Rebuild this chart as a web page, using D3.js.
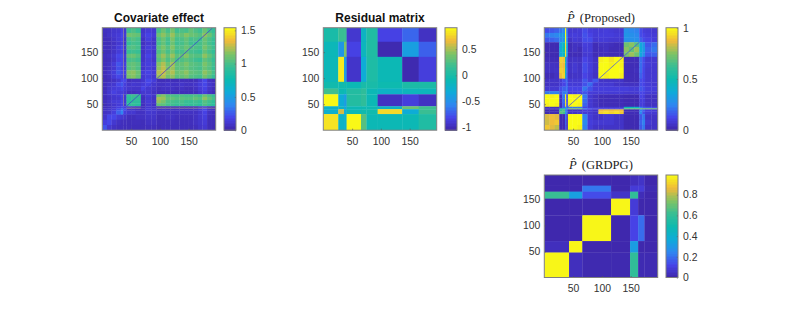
<!DOCTYPE html>
<html>
<head>
<meta charset="utf-8">
<script src="https://cdn.jsdelivr.net/npm/d3@7"></script>
<style>
  html, body { margin: 0; padding: 0; background: #fff; }
  svg { display: block; }
  text { font-family: "Liberation Sans", sans-serif; }
</style>
</head>
<body>
<div id="chart"></div>
<script>
// matrix size and axis ticks
const matrixSize = 197;
const axisTicks = [50, 100, 150];

// parula colormap stops
const parulaStops = ["#3e26a8", "#4743e8", "#2e87f0", "#0eabd8", "#0cbab0", "#38be94", "#80c364", "#efba3a", "#f9fb15"];

// Covariate effect: rows go top to bottom
const covX = [0, 8, 16, 24, 32, 36, 36.6, 42, 50, 58, 67, 75, 85, 94, 102, 110, 118, 126, 134, 142, 150, 158, 166, 174, 182, 190, 197];
const covY = [197, 187, 179, 171, 163, 155, 147, 139, 131, 123, 115, 107, 99, 92, 84, 76, 69, 64, 58, 52, 46, 43, 42, 38, 30, 20, 10, 0];
const covValues = [
  [.07, .08, .11, .12, .18, 1.5, .12, .98, 1.02, .96, .1, .14, .12, 1.0, 1.1, 1.0, 1.12, .98, 1.02, 1.0, 1.08, 1.02, .98, 1.1, 1.0, .95],
  [.06, .09, .12, .14, .2, 1.5, .14, 1.12, 1.1, 1.08, .12, .18, .14, 1.1, 1.18, 1.08, 1.2, 1.06, 1.08, 1.16, 1.1, 1.08, 1.04, 1.18, 1.1, 1.0],
  [.05, .06, .1, .14, .18, 1.5, .1, 1.0, 1.04, 1.0, .08, .16, .1, 1.02, 1.1, 1.0, 1.14, 1.0, 1.02, 1.08, 1.0, 1.02, .98, 1.1, 1.02, .96],
  [.05, .05, .08, .12, .16, 1.5, .09, .96, 1.0, .98, .07, .12, .09, 1.0, 1.08, .98, 1.1, .98, 1.0, 1.06, .98, .98, 1.0, 1.08, 1.0, .95],
  [.06, .06, .09, .15, .2, 1.5, .12, 1.02, 1.04, 1.0, .09, .15, .12, 1.06, 1.14, 1.04, 1.16, 1.02, 1.04, 1.1, 1.04, 1.02, 1.0, 1.13, 1.04, .98],
  [.05, .05, .09, .14, .17, 1.5, .1, .96, .98, .96, .08, .14, .1, 1.02, 1.1, 1.0, 1.1, .98, 1.0, 1.06, 1.0, .98, .96, 1.08, 1.0, .94],
  [.06, .08, .12, .2, .22, 1.5, .14, 1.08, 1.1, 1.04, .1, .18, .12, 1.1, 1.2, 1.08, 1.2, 1.06, 1.08, 1.16, 1.06, 1.04, 1.04, 1.18, 1.08, 1.0],
  [.05, .06, .1, .18, .2, 1.5, .12, 1.0, 1.02, .98, .09, .15, .1, 1.05, 1.14, 1.02, 1.12, 1.0, 1.02, 1.06, 1.02, .98, .96, 1.08, 1.02, .95],
  [.06, .08, .14, .24, .2, 1.5, .16, 1.06, 1.08, 1.04, .12, .16, .14, 1.16, 1.24, 1.1, 1.22, 1.06, 1.08, 1.14, 1.06, 1.04, 1.02, 1.14, 1.06, .98],
  [.05, .08, .12, .22, .18, 1.5, .14, 1.04, 1.08, 1.02, .1, .15, .12, 1.18, 1.26, 1.13, 1.2, 1.06, 1.06, 1.1, 1.04, 1.02, 1.0, 1.1, 1.04, .96],
  [.06, .1, .15, .25, .2, 1.5, .17, 1.16, 1.18, 1.1, .14, .18, .14, 1.24, 1.28, 1.18, 1.24, 1.1, 1.12, 1.18, 1.08, 1.06, 1.04, 1.18, 1.1, 1.0],
  [.05, .08, .14, .2, .18, 1.5, .14, 1.13, 1.16, 1.08, .12, .16, .12, 1.2, 1.24, 1.12, 1.18, 1.06, 1.08, 1.12, 1.04, 1.02, 1.0, 1.12, 1.04, .96],
  [.05, .06, .08, .12, .2, .14, .2, .06, .08, .08, .11, .2, .15, .05, .05, .06, .05, .05, .06, .06, .05, .06, .12, .2, .08, .06],
  [.06, .1, .12, .2, .25, .18, .16, .1, .12, .11, .14, .18, .11, .08, .08, .1, .08, .08, .1, .08, .08, .1, .15, .2, .11, .08],
  [.05, .11, .14, .16, .2, .14, .14, .11, .1, .1, .18, .12, .1, .06, .08, .08, .08, .06, .08, .06, .06, .08, .14, .18, .1, .06],
  [.06, .12, .17, .14, .15, .14, .12, .06, .06, .08, .12, .12, .08, .05, .05, .06, .05, .05, .05, .05, .05, .06, .11, .15, .08, .05],
  [.06, .1, .12, .14, .2, 1.5, .12, .95, .98, .95, .08, .14, .1, 1.1, 1.16, 1.04, 1.02, 1.0, 1.02, 1.0, 1.0, 1.02, .98, 1.1, 1.02, .96],
  [.05, .08, .11, .12, .18, 1.5, .11, .92, .95, .94, .06, .12, .08, 1.22, 1.2, 1.08, 1.08, 1.04, 1.06, 1.04, 1.04, 1.08, 1.04, 1.18, 1.08, 1.0],
  [.06, .1, .14, .15, .2, 1.5, .12, .9, .92, .92, .08, .14, .1, 1.18, 1.13, 1.02, 1.0, .98, 1.0, .96, .96, .98, .94, 1.04, .98, .92],
  [.05, .08, .11, .14, .18, 1.5, .12, .92, .94, .9, .06, .12, .08, 1.08, 1.06, 1.0, .98, .96, .98, .95, .94, .96, .92, 1.02, .96, .9],
  [.06, .08, .12, .18, .22, .2, .16, .12, .1, .08, .06, .12, .1, .06, .06, .06, .06, .06, .06, .06, .06, .06, .12, .16, .08, .06],
  [.06, .06, .1, .12, .14, .12, .14, 1.3, 1.3, 1.3, .12, .12, .08, 1.3, 1.3, 1.3, 1.3, 1.3, 1.3, 1.3, 1.3, 1.3, 1.3, 1.3, 1.3, 1.3],
  [.08, .11, .14, .22, .32, .24, .22, .1, .1, .08, .08, .14, .12, .08, .1, .08, .08, .08, .08, .08, .08, .1, .14, .2, .1, .08],
  [.08, .1, .16, .28, .38, .26, .16, .12, .12, .08, .08, .12, .11, .08, .08, .08, .08, .08, .08, .08, .08, .08, .12, .18, .08, .06],
  [.1, .2, .2, .14, .12, .1, .1, .06, .06, .08, .08, .1, .1, .05, .06, .08, .08, .06, .06, .06, .06, .08, .12, .16, .06, .05],
  [.16, .2, .12, .08, .06, .06, .06, .05, .06, .06, .05, .08, .08, .05, .05, .05, .06, .05, .05, .05, .06, .08, .11, .14, .05, .05],
  [.24, .12, .08, .06, .06, .05, .05, .05, .05, .05, .05, .06, .06, .04, .05, .05, .05, .05, .05, .05, .05, .06, .1, .12, .05, .04]
];
const covDiagX = [42, 191];
const covDiagY = [46, 196];
const covDiagValue = [0.08];
const covBarDomain = [0, 1.54];
const covBarTicks = [0, 0.5, 1, 1.5];
const covBarLabels = ["0", "0.5", "1", "1.5"];

// Residual matrix
const resX = [0, 26, 36, 40.5, 65.5, 75, 94.4, 137, 165.7, 197];
const resY = [197, 170, 141, 93, 80, 69, 46, 40.4, 31, 0];
const resValues = [
  [.0, .18, .18, -.9, -.18, .04, -.82, -.68, -.95],
  [-.12, -.45, .4, -.82, -.15, .04, -1.02, -.4, -.7],
  [-.12, .85, -.42, -.92, -.3, .03, -.1, -1.02, -.85],
  [-.04, -.04, -.04, -.1, .0, .0, -.06, .02, .02],
  [.2, -.08, -.12, .06, .12, -.1, -.2, -.14, -.14],
  [.9, -.3, -.42, .06, .12, -.1, -.95, -.85, -.95],
  [-.22, -.2, -.35, -.1, -.08, -.08, -.2, .35, .2],
  [-.25, .6, -.3, -.1, -.04, -.04, .78, -.3, .18],
  [.82, -.2, -.24, .9, .28, -.1, -.1, -.1, .04]
];
const resBarDomain = [-1.05, 0.91];
const resBarTicks = [-1, -0.5, 0, 0.5];
const resBarLabels = ["-1", "-0.5", "0", "0.5"];

// P-hat (Proposed)
const propX = [0, 9, 18, 26, 31, 36, 38, 41, 49, 57, 66, 75, 84, 94, 103, 112, 121, 130, 138, 147, 156, 165, 170, 175, 186, 197];
const propY = [197, 187, 178, 169, 160, 150, 141, 130, 120, 110, 99, 92, 84, 75, 69, 61, 53, 45, 42, 40, 36, 31, 20, 10, 0];
const propValues = [
  [.14, .16, .18, .22, .25, 1, .22, .08, .08, .09, .14, .1, .09, .09, .1, .09, .08, .08, .28, .26, .24, .14, .1, .09, .08],
  [.22, .24, .26, .3, .32, 1, .24, .09, .1, .09, .15, .12, .09, .1, .1, .1, .09, .09, .3, .28, .26, .14, .12, .1, .09],
  [.16, .18, .2, .26, .3, 1, .26, .06, .09, .08, .14, .14, .08, .09, .09, .08, .08, .08, .28, .28, .28, .18, .14, .12, .1],
  [.02, .02, .02, .36, .44, .95, .36, .03, .05, .05, .1, .09, .03, .05, .05, .04, .03, .03, .72, .76, .68, .36, .3, .16, .2],
  [.02, .02, .02, .38, .48, .95, .34, .03, .05, .03, .09, .09, .03, .04, .05, .03, .03, .03, .76, .7, .78, .38, .32, .18, .22],
  [.02, .02, .02, .38, .44, .95, .32, .03, .03, .03, .08, .08, .03, .04, .04, .03, .03, .03, .74, .78, .72, .36, .28, .16, .18],
  [.03, .03, .03, .92, .9, .5, .18, .05, .06, .05, .12, .09, .05, .98, 1, .96, 1, .98, .03, .03, .03, .2, .14, .08, .08],
  [.05, .05, .05, .9, .88, .45, .18, .06, .08, .06, .14, .1, .06, 1, 1, .98, 1, .98, .03, .03, .03, .2, .14, .09, .08],
  [.05, .05, .06, .92, .9, .5, .2, .06, .08, .06, .14, .1, .06, 1, 1, 1, 1, 1, .03, .03, .04, .2, .13, .08, .08],
  [.03, .03, .05, .88, .92, .45, .18, .05, .06, .06, .12, .09, .05, 1, .98, 1, 1, .98, .03, .03, .03, .18, .13, .08, .08],
  [.05, .06, .06, .08, .14, .16, .18, .08, .08, .08, .16, .1, .16, .06, .06, .06, .06, .06, .03, .03, .03, .14, .12, .08, .08],
  [.05, .06, .06, .09, .12, .14, .18, .09, .09, .09, .15, .2, .09, .08, .08, .08, .06, .06, .05, .05, .05, .14, .12, .09, .08],
  [.08, .08, .08, .14, .18, .18, .2, .12, .12, .12, .22, .15, .1, .1, .1, .1, .1, .1, .1, .09, .09, .16, .14, .1, .1],
  [.22, .24, .24, .15, .22, .24, .22, .1, .1, .12, .16, .1, .09, .09, .09, .09, .09, .09, .08, .08, .08, .13, .12, .09, .08],
  [1, .98, 1, .05, .22, .98, .14, 1, .98, 1, .22, .08, .05, .03, .03, .03, .03, .03, .02, .02, .02, .12, .1, .05, .05],
  [1, 1, 1, .05, .2, .98, .14, 1, 1, 1, .2, .08, .05, .03, .03, .03, .03, .03, .02, .02, .02, .1, .1, .05, .05],
  [.98, 1, .98, .03, .18, .95, .16, .98, 1, .98, .18, .08, .05, .03, .03, .03, .03, .03, .02, .02, .02, .1, .09, .05, .05],
  [.05, .05, .05, .06, .18, .32, .18, .22, .22, .22, .12, .09, .08, .08, .08, .08, .08, .08, .48, .46, .44, .24, .18, .16, .14],
  [.03, .03, .03, .5, .5, .45, .28, .75, .75, .75, .22, .14, .1, .1, .1, .1, .1, .1, .72, .72, .72, .72, .72, .72, .72],
  [.02, .02, .02, .62, .68, .24, .18, .06, .06, .06, .1, .09, .06, .88, .9, .88, .9, .88, .03, .03, .03, .24, .18, .1, .09],
  [.02, .02, .02, .7, .65, .28, .2, .06, .06, .08, .09, .08, .06, .92, .95, .92, .95, .9, .03, .03, .03, .26, .15, .09, .08],
  [.85, .88, .86, .02, .02, .22, .08, 1, 1, 1, .24, .09, .06, .06, .08, .08, .06, .06, .02, .02, .02, .16, .22, .06, .06],
  [.84, .88, .9, .02, .02, .18, .06, 1, 1, 1, .26, .1, .08, .08, .08, .08, .06, .06, .02, .02, .02, .18, .24, .08, .06],
  [.9, .86, .82, .02, .02, .16, .06, 1, 1, .98, .24, .09, .06, .06, .06, .06, .06, .06, .02, .02, .02, .16, .22, .06, .06]
];
const propDiagX = [41, 165];
const propDiagY = [45, 169];
const propDiagValue = [0.15];
const propBarDomain = [0, 1];
const propBarTicks = [0, 0.5, 1];
const propBarLabels = ["0", "0.5", "1"];

// P-hat (GRDPG)
const grdpgX = [0, 43, 66, 116, 149, 163, 174, 197];
const grdpgY = [197, 176.5, 165, 151.6, 119.6, 70, 48, 0];
const grdpgValues = [
  [.01, .01, .01, .01, .04, .06, .01],
  [.01, .01, .22, .01, .09, .09, .02],
  [.62, .33, .14, .06, .6, .03, .01],
  [.01, .01, .01, .98, .09, .01, .01],
  [.01, .01, .98, .01, .12, .2, .01],
  [.04, .98, .01, .01, .32, .01, .01],
  [.98, .04, .015, .015, .6, .02, .02]
];
const grdpgBarDomain = [0, 0.99];
const grdpgBarTicks = [0, 0.2, 0.4, 0.6, 0.8];
const grdpgBarLabels = ["0", "0.2", "0.4", "0.6", "0.8"];

const width = 787, height = 312;
const svg = d3.select("#chart").append("svg").attr("width", width).attr("height", height);

const panels = [
  { id: "cov", left: 102.3, top: 27.7, barLeft: 224, title: "Covariate effect", latex: false, xs: covX, ys: covY, values: covValues, diagX: covDiagX, diagY: covDiagY, diagValue: covDiagValue, domain: covBarDomain, barTicks: covBarTicks, barLabels: covBarLabels },
  { id: "res", left: 323.3, top: 27.7, barLeft: 445, title: "Residual matrix", latex: false, xs: resX, ys: resY, values: resValues, domain: resBarDomain, barTicks: resBarTicks, barLabels: resBarLabels },
  { id: "prop", left: 544.3, top: 27.7, barLeft: 666, title: "(Proposed)", latex: true, xs: propX, ys: propY, values: propValues, diagX: propDiagX, diagY: propDiagY, diagValue: propDiagValue, domain: propBarDomain, barTicks: propBarTicks, barLabels: propBarLabels },
  { id: "grdpg", left: 544.3, top: 175, barLeft: 666, title: "(GRDPG)", latex: true, xs: grdpgX, ys: grdpgY, values: grdpgValues, domain: grdpgBarDomain, barTicks: grdpgBarTicks, barLabels: grdpgBarLabels }
];

const plotW = 113.4, plotH = 102.5, barW = 12;

function styleAxis(g) {
  g.select(".domain").remove();
  g.selectAll("line").attr("stroke", "#555").attr("stroke-width", 0.7);
  g.selectAll("text").attr("fill", "#333").attr("font-size", 10.4).attr("font-family", "Liberation Sans");
}

panels.forEach(p => {
  const g = svg.append("g").attr("transform", `translate(${p.left},${p.top})`);
  const x = d3.scaleLinear().domain([0, matrixSize]).range([0, plotW]);
  const y = d3.scaleLinear().domain([0, matrixSize]).range([plotH, 0]);
  const color = d3.scaleLinear()
    .domain(d3.range(parulaStops.length).map(i => p.domain[0] + (p.domain[1] - p.domain[0]) * i / (parulaStops.length - 1)))
    .range(parulaStops)
    .clamp(true);

  g.append("clipPath").attr("id", "clip-" + p.id)
    .append("rect").attr("width", plotW).attr("height", plotH);

  const holder = g.append("g").attr("clip-path", `url(#clip-${p.id})`);
  const cells = holder.append("g").style("filter", "blur(0.45px)");
  p.values.forEach((row, r) => {
    cells.selectAll(null).data(row).enter().append("rect")
      .attr("x", (d, c) => x(p.xs[c]))
      .attr("y", y(p.ys[r]))
      .attr("width", (d, c) => x(p.xs[c + 1]) - x(p.xs[c]) + 0.3)
      .attr("height", y(p.ys[r + 1]) - y(p.ys[r]) + 0.3)
      .attr("fill", d => color(d));
  });

  if (p.diagX) {
    holder.append("line")
      .attr("x1", x(p.diagX[0])).attr("y1", y(p.diagY[0]))
      .attr("x2", x(p.diagX[1])).attr("y2", y(p.diagY[1]))
      .attr("stroke", color(p.diagValue[0] * (p.domain[1] - p.domain[0])))
      .attr("stroke-width", 0.9)
      .attr("opacity", 0.8);
  }

  // axes
  g.append("g").attr("transform", `translate(0,${plotH})`)
    .call(d3.axisBottom(x).tickValues(axisTicks).tickSizeInner(-1.5).tickSizeOuter(0).tickPadding(7))
    .call(styleAxis);
  g.append("g")
    .call(d3.axisLeft(y).tickValues(axisTicks).tickSizeInner(-1.5).tickSizeOuter(0).tickPadding(4))
    .call(styleAxis);
  g.append("rect").attr("width", plotW).attr("height", plotH)
    .attr("fill", "none").attr("stroke", "#7f7f7f").attr("stroke-width", 1);

  // title
  const cx = plotW / 2;
  if (p.latex) {
    const t = g.append("text").attr("x", cx).attr("y", -6).attr("text-anchor", "middle")
      .attr("font-size", 12.6).attr("fill", "#222").style("font-family", "Liberation Serif");
    t.append("tspan").attr("font-style", "italic").text("P\u0302");
    t.append("tspan").attr("dx", 5).text(p.title);
  } else {
    g.append("text").attr("x", cx).attr("y", -5.5).attr("text-anchor", "middle")
      .attr("font-size", 12).attr("font-weight", "bold").attr("fill", "#111").text(p.title);
  }

  // colorbar
  const bar = svg.append("g").attr("transform", `translate(${p.barLeft},${p.top})`);
  const barScale = d3.scaleLinear().domain(p.domain).range([plotH, 0]);
  const levels = d3.range(64).map(i => p.domain[0] + (p.domain[1] - p.domain[0]) * i / 64);
  const step = (p.domain[1] - p.domain[0]) / 64;
  bar.selectAll("rect.level").data(levels).enter().append("rect")
    .attr("class", "level")
    .attr("x", 0).attr("width", barW)
    .attr("y", d => barScale(d + step))
    .attr("height", plotH / 64 + 0.5)
    .attr("shape-rendering", "crispEdges")
    .attr("fill", d => color(d + step / 2));
  bar.append("g").attr("transform", `translate(${barW},0)`)
    .call(d3.axisRight(barScale).tickValues(p.barTicks).tickFormat((d, i) => p.barLabels[i]).tickSizeInner(-1.2).tickSizeOuter(0).tickPadding(5))
    .call(styleAxis);
  bar.append("rect").attr("width", barW).attr("height", plotH)
    .attr("fill", "none").attr("stroke", "#7f7f7f").attr("stroke-width", 1);
});
</script>
</body>
</html>
